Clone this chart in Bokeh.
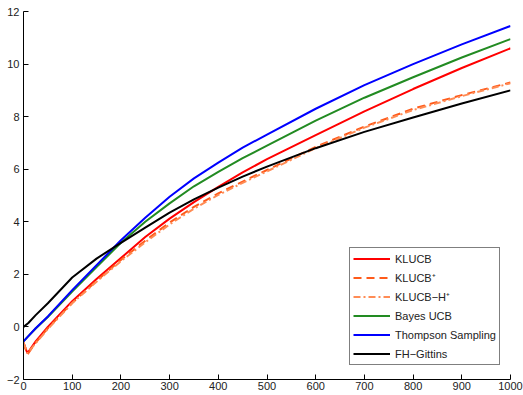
from bokeh.plotting import figure
from bokeh.models import Legend, LegendItem, FixedTicker, Range1d
from bokeh.embed import file_html
from bokeh.resources import INLINE

# Data
x_common = [0, 10, 25, 50, 100, 150, 200, 250, 300, 350, 400, 450, 500, 600, 700, 800, 900, 1000]
fh_gittins = [0.0, 0.15, 0.45, 0.9, 1.88, 2.6, 3.2, 3.78, 4.35, 4.85, 5.3, 5.72, 6.1, 6.8, 7.42, 7.97, 8.5, 9.0]
thompson   = [-0.55, -0.35, -0.05, 0.4, 1.4, 2.35, 3.3, 4.15, 4.95, 5.65, 6.25, 6.82, 7.32, 8.3, 9.2, 10.0, 10.75, 11.45]
bayes_ucb  = [-0.55, -0.35, -0.06, 0.38, 1.35, 2.28, 3.2, 4.0, 4.7, 5.35, 5.9, 6.42, 6.9, 7.85, 8.72, 9.5, 10.25, 10.95]

x_kl = [0, 8, 25, 50, 100, 150, 200, 250, 300, 350, 400, 450, 500, 600, 700, 800, 900, 1000]
klucb      = [-0.6, -1.0, -0.55, 0.0, 0.98, 1.82, 2.62, 3.42, 4.12, 4.75, 5.33, 5.88, 6.38, 7.3, 8.2, 9.05, 9.85, 10.6]
klucb_plus = [-0.6, -1.05, -0.6, -0.05, 0.92, 1.75, 2.55, 3.28, 3.97, 4.57, 5.08, 5.53, 5.97, 6.85, 7.62, 8.3, 8.82, 9.3]
klucb_h    = [-0.6, -1.0, -0.62, -0.08, 0.9, 1.72, 2.5, 3.22, 3.9, 4.5, 5.02, 5.48, 5.92, 6.8, 7.58, 8.25, 8.78, 9.27]

x_ticks = [0, 100, 200, 300, 400, 500, 600, 700, 800, 900, 1000]
y_ticks = [-2, 0, 2, 4, 6, 8, 10, 12]

FONT = "Liberation Sans"

p = figure(width=523, height=395, output_backend="svg", toolbar_location=None,
           x_range=Range1d(0, 1000), y_range=Range1d(-2, 12),
           min_border_top=11, min_border_right=13, min_border_left=23, min_border_bottom=16)
p.outline_line_color = None
p.xgrid.visible = False
p.ygrid.visible = False

for ax in (p.xaxis[0], p.yaxis[0]):
    ax.major_tick_in = 5
    ax.major_tick_out = 0
    ax.minor_tick_line_color = None
    ax.axis_line_color = "black"
    ax.major_tick_line_color = "black"
    ax.major_label_text_font = FONT
    ax.major_label_text_font_size = "11px"
    ax.major_label_text_color = "#222222"
p.xaxis[0].ticker = FixedTicker(ticks=x_ticks)
p.yaxis[0].ticker = FixedTicker(ticks=y_ticks)
p.yaxis[0].major_label_overrides = {-2: "\u22122"}
p.xaxis[0].major_label_standoff = 2
p.yaxis[0].major_label_standoff = 4

r_kl = p.line(x_kl, klucb, line_color="#ff0000", line_width=2)
r_klp = p.line(x_kl, klucb_plus, line_color="#ff5a1a", line_width=2, line_dash="8 5")
r_klh = p.line(x_kl, klucb_h, line_color="#ff8c55", line_width=2, line_dash="7 3 2 3")
r_bay = p.line(x_common, bayes_ucb, line_color="#228b22", line_width=2)
r_th = p.line(x_common, thompson, line_color="#0000ff", line_width=2)
r_fh = p.line(x_common, fh_gittins, line_color="#000000", line_width=2)

legend = Legend(items=[
    LegendItem(label="KLUCB", renderers=[r_kl]),
    LegendItem(label="KLUCB\u207a", renderers=[r_klp]),
    LegendItem(label="KLUCB\u2212H\u207a", renderers=[r_klh]),
    LegendItem(label="Bayes UCB", renderers=[r_bay]),
    LegendItem(label="Thompson Sampling", renderers=[r_th]),
    LegendItem(label="FH\u2212Gittins", renderers=[r_fh]),
], location=(326, 14))
legend.border_line_color = "black"
legend.border_line_width = 1
legend.background_fill_alpha = 1
legend.label_text_font = FONT
legend.label_text_font_size = "11px"
legend.label_text_color = "#222222"
legend.glyph_width = 37
legend.glyph_height = 15
legend.label_height = 15
legend.spacing = 4
legend.padding = 3
legend.margin = 0
legend.label_standoff = 5
p.add_layout(legend, "center")

open("out.html", "w").write(file_html(p, INLINE))
